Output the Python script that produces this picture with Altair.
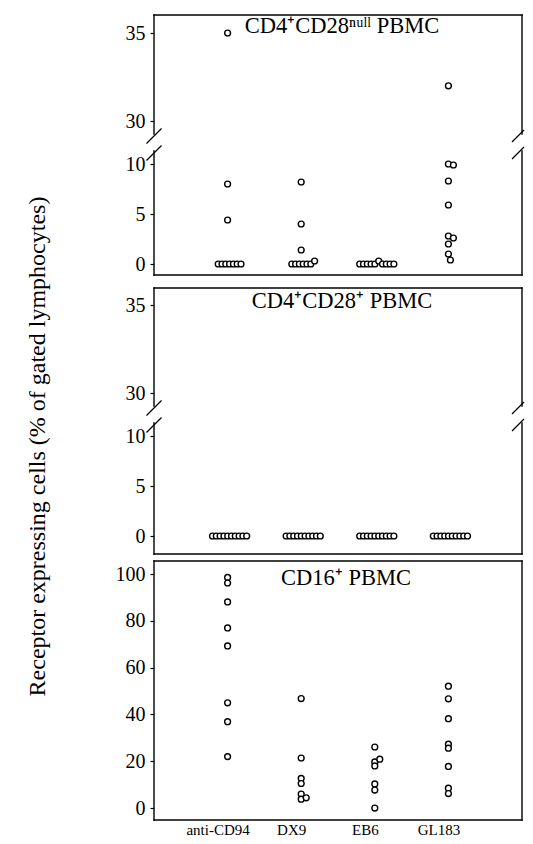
import altair as alt
import pandas as pd

categories = ["anti-CD94", "DX9", "EB6", "GL183"]
panel_titles = ["CD4⁺CD28ⁿᵘˡˡ PBMC", "CD4⁺CD28⁺ PBMC", "CD16⁺ PBMC"]
y_title = "Receptor expressing cells (% of gated lymphocytes)"

# Panel 1: CD4+CD28null PBMC (values, % of gated lymphocytes)
p1_cd94 = [35.0, 8.0, 4.4, 0, 0, 0, 0, 0, 0, 0]
p1_dx9 = [8.2, 4.0, 1.4, 0, 0, 0, 0, 0, 0, 0.3]
p1_eb6 = [0, 0, 0, 0, 0, 0.3, 0, 0, 0, 0]
p1_gl183 = [32.0, 10.0, 9.9, 8.3, 5.9, 2.8, 2.6, 2.0, 1.0, 0.4]

# Panel 2: CD4+CD28+ PBMC
p2_cd94 = [0, 0, 0, 0, 0, 0, 0, 0, 0, 0]
p2_dx9 = [0, 0, 0, 0, 0, 0, 0, 0, 0, 0]
p2_eb6 = [0, 0, 0, 0, 0, 0, 0, 0, 0, 0]
p2_gl183 = [0, 0, 0, 0, 0, 0, 0, 0, 0, 0]

# Panel 3: CD16+ PBMC
p3_cd94 = [98.6, 96.2, 88.1, 77.0, 69.3, 45.0, 36.9, 22.0]
p3_dx9 = [46.8, 21.4, 12.7, 10.5, 6.0, 3.8, 4.4]
p3_eb6 = [26.1, 19.7, 20.9, 18.0, 10.3, 7.7, 0.0]
p3_gl183 = [52.1, 46.7, 38.2, 27.3, 25.6, 17.8, 8.5, 6.2]

broken_ticks = [0, 5, 10, 30, 35]
p3_ticks = [0, 20, 40, 60, 80, 100]

FONT = "Liberation Serif"
PLOT_W = 368
PX_PER_X = PLOT_W / 5.0
STEP = 3.8     # px between overlapping circles in a row of zeros
CENTER = 2.0   # px shift of the zero row
SHIFT = 5.0    # px shift of a circle overlapping the previous one

# broken axis mapping: lower segment 0..10 kept, upper 30..35 compressed
BREAK_LOW, BREAK_K = 14.3, 1.76
ty_expr = f"datum.v > 20 ? {BREAK_LOW} + (datum.v - 30) * {BREAK_K} : datum.v"


def to_axis(v):
    return v if v <= 20 else BREAK_LOW + (v - 30) * BREAK_K


def build(lists, zthr, tol):
    rows = []
    for ci, vals in enumerate(lists):
        near = [i for i, v in enumerate(vals) if v < zthr]
        n = len(near)
        prev = None
        for i, v in enumerate(vals):
            if v < zthr:
                k = near.index(i)
                off = (k - (n - 1) / 2) * STEP + CENTER
            else:
                off = SHIFT if (prev is not None and abs(v - prev) < tol) else 0.0
            prev = v
            rows.append(dict(cat=categories[ci], v=v, xpos=ci + 1 + off / PX_PER_X))
    return pd.DataFrame(rows)


d1 = build([p1_cd94, p1_dx9, p1_eb6, p1_gl183], 0.5, 0.35)
d2 = build([p2_cd94, p2_dx9, p2_eb6, p2_gl183], 0.5, 0.35)
d3 = build([p3_cd94, p3_dx9, p3_eb6, p3_gl183], -1, 1.5)

XS = alt.Scale(domain=[0, 5], nice=False, zero=False)
ONE = pd.DataFrame({"a": [0]})


def seg(x1, x2, y1, y2, width=1.4, cap="square"):
    return alt.Chart(ONE).mark_rule(
        color="black", strokeWidth=width, strokeCap=cap, clip=False
    ).encode(x=alt.value(x1), x2=alt.value(x2), y=alt.value(y1), y2=alt.value(y2))


def decorations(ydom, height, frame_bottom, broken):
    def py(v):
        return height * (ydom[1] - v) / (ydom[1] - ydom[0])

    fb = py(frame_bottom)
    out = [seg(0, PLOT_W, 0, 0), seg(0, PLOT_W, fb, fb)]
    if broken:
        g_lo, g_hi = py(11.3), py(13.0)
        for xe in (0, PLOT_W):
            out.append(seg(xe, xe, fb, g_lo))
            out.append(seg(xe, xe, g_hi, 0))
            for yc in (11.1, 12.8):
                if xe == 0:
                    out.append(seg(xe - 7.5, xe + 7.5, py(yc) + 7.5, py(yc) - 7.5,
                                   width=1.3, cap="butt"))
                else:
                    out.append(seg(xe - 10, xe + 2, py(yc) + 6, py(yc) - 6,
                                   width=1.3, cap="butt"))
    else:
        out.append(seg(0, 0, 0, fb))
        out.append(seg(PLOT_W, PLOT_W, 0, fb))
    return out


def panel(df, ydom, height, frame_bottom, title, tx, ty, broken, yaxis, xaxis):
    ys = alt.Scale(domain=ydom, nice=False, zero=False)
    expr = ty_expr if broken else "datum.v"
    points = alt.Chart(df).transform_calculate(ty=expr).mark_circle(
        size=34, fill="white", stroke="black", strokeWidth=1.4, opacity=1
    ).encode(
        x=alt.X("xpos:Q", scale=XS, axis=xaxis),
        y=alt.Y("ty:Q", scale=ys, axis=yaxis),
    )
    label = alt.Chart(pd.DataFrame({"t": [title]})).mark_text(
        font=FONT, fontSize=22.5, color="black", align="center", baseline="alphabetic"
    ).encode(text="t:N", x=alt.value(tx), y=alt.value(ty))
    return alt.layer(points, *decorations(ydom, height, frame_bottom, broken), label).properties(
        width=PLOT_W, height=height
    )


broken_vals = [to_axis(t) for t in broken_ticks]
label_expr_broken = (
    f"datum.value > 12 ? format(30 + (datum.value - {BREAK_LOW}) / {BREAK_K}, '.0f') "
    f": format(datum.value, '.0f')"
)

yaxis1 = alt.Axis(values=broken_vals, labelExpr=label_expr_broken, title=None)
yaxis2 = alt.Axis(values=broken_vals, labelExpr=label_expr_broken, title=y_title,
                  titleY=158, titlePadding=76, titleFont=FONT, titleFontSize=24,
                  titleFontWeight="normal", titleColor="black")
yaxis3 = alt.Axis(values=p3_ticks, title=None)

cat_arr = "[''," + ",".join(f"'{c}'" for c in categories) + "]"
xaxis3 = alt.Axis(values=[1, 2, 3, 4], labelExpr=f"{cat_arr}[datum.value]", ticks=False,
                  labelFontSize=15, labelPadding=2, labelOffset=-10, title=None)

# panel 1 view is 6 px taller than its frame, to leave a wider gap below it
c1 = panel(d1, [-1.7, 24.9], 266, -1.1, panel_titles[0], 188, 18, True, yaxis1, None)
c2 = panel(d2, [-1.8, 24.8], 266, -1.8, panel_titles[1], 188, 20, True, yaxis2, None)
c3 = panel(d3, [-5.1, 105.6], 259, -5.1, panel_titles[2], 192, 24, False, yaxis3, xaxis3)

chart = alt.vconcat(c1, c2, c3, spacing=7, bounds="flush").properties(
    padding={"left": 16, "top": 6, "right": 0, "bottom": 0}
).configure_view(strokeWidth=0).configure_axis(
    grid=False, domain=False, tickColor="black", tickSize=4, tickWidth=1.2,
    labelFont=FONT, labelFontSize=20, labelColor="black", labelPadding=5,
)

chart.save("out.html", embed_options={"renderer": "svg", "actions": False})
